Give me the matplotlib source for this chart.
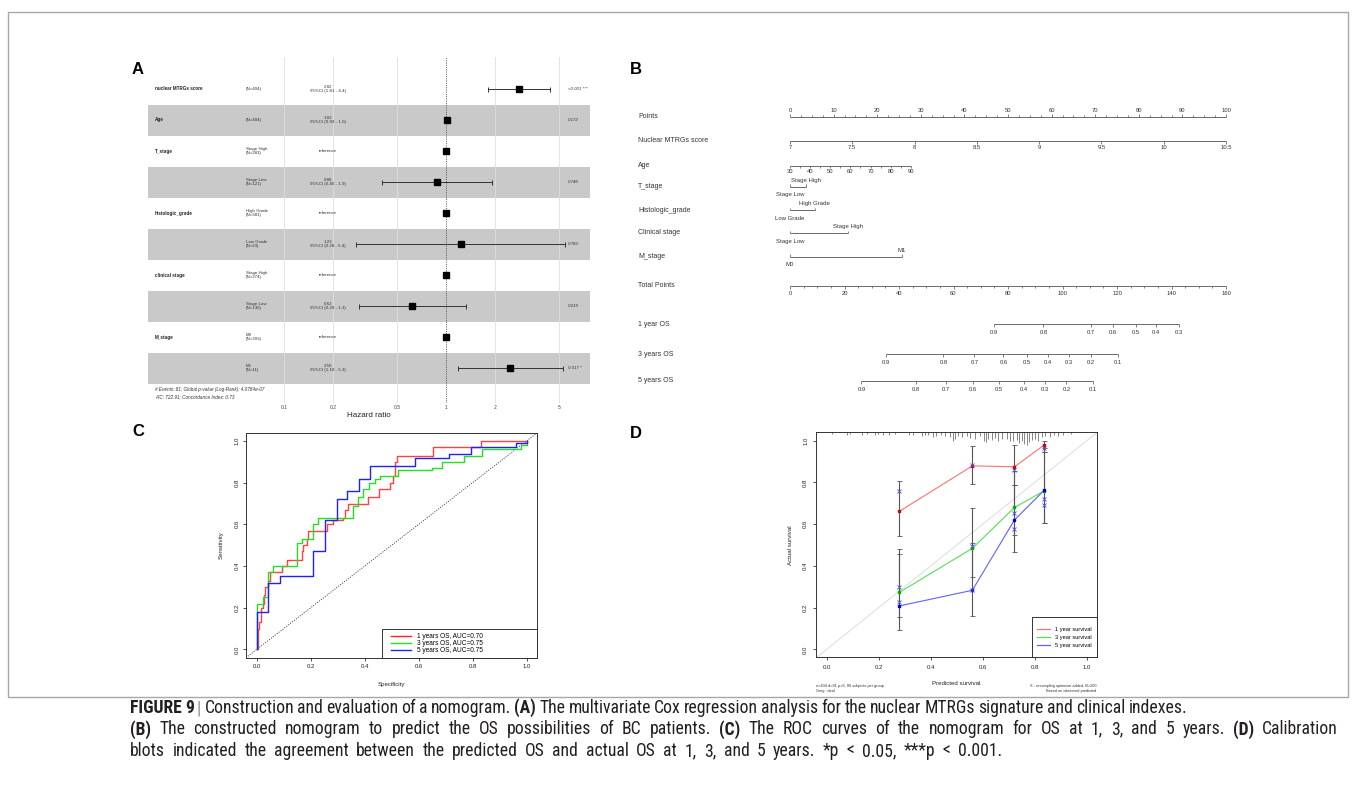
import numpy as np
import matplotlib
matplotlib.use("Agg")
import matplotlib.pyplot as plt
import matplotlib.transforms as mtransforms
from matplotlib import font_manager as fm
from matplotlib.patches import Rectangle, FancyBboxPatch
from matplotlib.lines import Line2D

W, H = 1356, 808
plt.rcParams['font.family'] = ['Liberation Sans', 'DejaVu Sans']

# ======================= DATA =======================
# Panel A: multivariate Cox forest plot
fp_vars = ["nuclear MTRGs score", "Age", "T_stage", "", "histologic_grade", "",
           "clinical stage", "", "M_stage", ""]
fp_levels = ["", "", "Stage High", "Stage Low", "High Grade", "Low Grade",
             "Stage High", "Stage Low", "M0", "M1"]
fp_n = [404, 404, 283, 121, 381, 23, 274, 130, 393, 11]
fp_hr = [2.82, 1.02, 1.0, 0.88, 1.0, 1.23, 1.0, 0.62, 1.0, 2.50]
fp_lo = [1.81, 0.99, np.nan, 0.40, np.nan, 0.28, np.nan, 0.29, np.nan, 1.18]
fp_hi = [4.40, 1.04, np.nan, 1.92, np.nan, 5.43, np.nan, 1.33, np.nan, 5.30]
fp_ci_text = ["(1.81 - 4.4)", "(0.99 - 1.0)", "", "(0.40 - 1.9)", "", "(0.28 - 5.4)",
              "", "(0.29 - 1.3)", "", "(1.18 - 5.3)"]
fp_p = ["<0.001 ***", "0.172", "", "0.746", "", "0.783", "", "0.219", "", "0.017 *"]
fp_ref = [False, False, True, False, True, False, True, False, True, False]
hr_ticks = [0.1, 0.2, 0.5, 1, 2, 5]
fp_footer = ["# Events: 81; Global p-value (Log-Rank): 4.0784e-07",
             "AIC: 722.91; Concordance Index: 0.73"]

# Panel B: nomogram
nomo_labels = ["Points", "Nuclear MTRGs score", "Age", "T_stage", "Histologic_grade",
               "Clinical stage", "M_stage", "Total Points", "1 year OS", "3 years OS", "5 years OS"]
points_major = list(range(0, 101, 10))
points_minor = list(np.arange(0, 100.1, 2.5))
score_ticks = [7, 7.5, 8, 8.5, 9, 9.5, 10, 10.5]
score_min, score_max = 7.0, 10.5          # maps onto 0..100 points
age_ticks = list(range(30, 91, 5))
age_labels = list(range(30, 91, 10))
age_min, age_max, age_max_points = 30, 90, 27.7
t_stage_levels, t_stage_points = ["Stage Low", "Stage High"], [0, 3.7]
hist_levels, hist_points = ["Low Grade", "High Grade"], [0, 5.7]
clin_levels, clin_points = ["Stage Low", "Stage High"], [0, 13.3]
m_levels, m_points = ["M0", "M1"], [0, 25.6]
total_major = list(range(0, 161, 20))
total_minor = list(range(0, 161, 5))
total_max = 160
os1_probs = [0.9, 0.8, 0.7, 0.6, 0.5, 0.4, 0.3]
os1_total = [74.8, 93.0, 110.3, 118.6, 126.9, 134.3, 142.6]
os3_probs = [0.9, 0.8, 0.7, 0.6, 0.5, 0.4, 0.3, 0.2, 0.1]
os3_total = [35.2, 56.3, 67.7, 78.3, 86.9, 94.6, 102.3, 110.3, 120.5]
os5_probs = [0.9, 0.8, 0.7, 0.6, 0.5, 0.4, 0.3, 0.2, 0.1]
os5_total = [26.2, 46.1, 57.3, 67.2, 76.7, 85.7, 93.4, 101.4, 111.2]

# Panel C: ROC curves (x = 1 - specificity at each step, y = sensitivity after step)
roc1_x = [0, 0.004, 0.01, 0.015, 0.022, 0.025, 0.031, 0.04, 0.05, 0.093, 0.111, 0.167, 0.173,
          0.185, 0.191, 0.259, 0.284, 0.32, 0.327, 0.34, 0.414, 0.454, 0.494, 0.506, 0.512,
          0.519, 0.654, 0.83, 1.0]
roc1_y = [0, 0.10, 0.13, 0.20, 0.22, 0.26, 0.30, 0.33, 0.37, 0.40, 0.43, 0.47, 0.50,
          0.53, 0.57, 0.60, 0.62, 0.63, 0.67, 0.70, 0.73, 0.77, 0.80, 0.83, 0.90,
          0.93, 0.97, 1.0, 1.0]
roc3_x = [0, 0.0, 0.022, 0.043, 0.059, 0.148, 0.167, 0.21, 0.228, 0.356, 0.377, 0.395, 0.417,
          0.438, 0.457, 0.522, 0.648, 0.685, 0.768, 0.836, 0.978, 1.0]
roc3_y = [0, 0.22, 0.25, 0.37, 0.40, 0.51, 0.53, 0.60, 0.63, 0.69, 0.73, 0.77, 0.80,
          0.82, 0.83, 0.86, 0.87, 0.90, 0.93, 0.96, 0.98, 1.0]
roc5_x = [0, 0.0, 0.043, 0.086, 0.207, 0.253, 0.296, 0.336, 0.379, 0.42, 0.586, 0.714, 0.793,
          0.96, 1.0]
roc5_y = [0, 0.18, 0.32, 0.35, 0.47, 0.62, 0.72, 0.76, 0.82, 0.88, 0.92, 0.94, 0.97,
          0.99, 1.0]
roc_labels = ["1 years OS, AUC=0.70", "3 years OS, AUC=0.75", "5 years OS, AUC=0.75"]

# Panel D: calibration
cal_pred = [0.279, 0.560, 0.722, 0.836]
cal1_obs = [0.661, 0.879, 0.875, 0.979]
cal3_obs = [0.273, 0.484, 0.680, 0.759]
cal5_obs = [0.208, 0.283, 0.620, 0.762]
cal1_lo, cal1_hi = [0.542, 0.792, 0.788, 0.944], [0.807, 0.976, 0.978, 1.0]
cal3_lo, cal3_hi = [0.093, 0.345, 0.548, 0.604], [0.481, 0.679, 0.853, 0.964]
cal5_lo, cal5_hi = [0.157, 0.158, 0.465, 0.604], [0.455, 0.510, 0.788, 0.944]
cal1_corr = [0.757, 0.884, 0.861, 0.965]
cal3_corr = [0.297, 0.495, 0.652, 0.720]
cal5_corr = [0.227, 0.283, 0.575, 0.692]
cal_labels = ["1 year survival", "3 year survival", "5 year survival"]
rug_pred = [0.02, 0.077, 0.09, 0.135, 0.154, 0.186, 0.199, 0.218, 0.241, 0.263, 0.318, 0.333,
            0.365, 0.378, 0.391, 0.41, 0.42, 0.438, 0.455, 0.474, 0.485, 0.494, 0.506, 0.519,
            0.538, 0.551, 0.571, 0.59, 0.603, 0.613, 0.622, 0.635, 0.647, 0.66, 0.673, 0.692,
            0.705, 0.718, 0.731, 0.741, 0.75, 0.759, 0.769, 0.779, 0.788, 0.801, 0.814, 0.827,
            0.84, 0.859, 0.872, 0.891, 0.91, 0.938]
rug_len = [0.010, 0.012, 0.010, 0.012, 0.010, 0.014, 0.010, 0.012, 0.014, 0.010, 0.012, 0.014,
           0.016, 0.012, 0.014, 0.022, 0.018, 0.014, 0.020, 0.024, 0.040, 0.030, 0.020, 0.024,
           0.018, 0.026, 0.030, 0.020, 0.040, 0.046, 0.030, 0.036, 0.028, 0.040, 0.030, 0.034,
           0.044, 0.040, 0.036, 0.050, 0.044, 0.056, 0.060, 0.048, 0.036, 0.030, 0.040, 0.024,
           0.020, 0.024, 0.014, 0.016, 0.012, 0.010]

caption_lines = [
    [("FIGURE 9", True, "#231f20"), ("|", False, "#888888"),
     ("Construction and evaluation of a nomogram.", False, "#231f20"), ("(A)", True, "#231f20"),
     ("The multivariate Cox regression analysis for the nuclear MTRGs signature and clinical indexes.",
      False, "#231f20")],
    [("(B)", True, "#231f20"),
     ("The constructed nomogram to predict the OS possibilities of BC patients.", False, "#231f20"),
     ("(C)", True, "#231f20"),
     ("The ROC curves of the nomogram for OS at 1, 3, and 5 years.", False, "#231f20"),
     ("(D)", True, "#231f20"), ("Calibration", False, "#231f20")],
    [("blots indicated the agreement between the predicted OS and actual OS at 1, 3, and 5 years. *p < 0.05, ***p < 0.001.",
      False, "#231f20")],
]

# ======================= FIGURE =======================
fig = plt.figure(figsize=(W / 100, H / 100), dpi=100)
fig.patch.set_facecolor("white")


def ax_px(x0, y0, x1, y1):
    return fig.add_axes([x0 / W, 1 - y1 / H, (x1 - x0) / W, (y1 - y0) / H])


def ftext(x, y, s, **kw):
    return fig.text(x / W, 1 - y / H, s, **kw)


# outer frame
fig.patches.append(FancyBboxPatch((8 / W, 1 - 697 / H), 1340 / W, 685 / H,
                                  boxstyle="square,pad=0", transform=fig.transFigure,
                                  fill=False, ec="#a8a8a8", lw=1.0))

# panel letters
for lab, x, y in [("A", 132, 70), ("B", 630, 69), ("C", 132, 432), ("D", 630, 433)]:
    ftext(x, y, lab, fontsize=12, fontweight="bold", va="center", ha="left", color="black")

# ---------------- Panel A ----------------
axA = ax_px(148, 57, 590, 403)
axA.set_xscale("log")
axA.set_xlim(10 ** ((148 - 446) / 162), 10 ** ((590 - 446) / 162))
nrows = len(fp_vars)
rows = np.arange(nrows)
axA.set_ylim((403 - 89) / 31, (57 - 89) / 31)
for i in rows:
    if i % 2 == 1:
        axA.axhspan(i - 0.5, i + 0.5, color="#c9c9c9", lw=0, zorder=0)
for t in hr_ticks:
    if t != 1:
        axA.axvline(t, color="#dedede", lw=0.6, zorder=1)
axA.axvline(1, color="#555555", lw=0.7, ls=(0, (1, 1.3)), zorder=2)
hr = np.array(fp_hr)
lo = np.array(fp_lo)
hi = np.array(fp_hi)
m = ~np.isnan(lo)
axA.errorbar(hr[m], rows[m], xerr=[hr[m] - lo[m], hi[m] - hr[m]], fmt="none",
             ecolor="#333333", elinewidth=0.7, capsize=1.8, capthick=0.7, zorder=3)
axA.plot(hr, rows, "s", color="black", ms=4.2, zorder=4)
for s in axA.spines.values():
    s.set_visible(False)
axA.set_yticks([])
axA.set_xticks(hr_ticks)
axA.set_xticklabels([str(t) for t in hr_ticks])
axA.xaxis.set_minor_locator(matplotlib.ticker.NullLocator())
axA.tick_params(axis="x", length=0, pad=1.2, labelsize=3.6, labelcolor="#444444")
axA.set_xlabel("Hazard ratio", fontsize=5.8, labelpad=1.5, color="#222222")
trA = mtransforms.blended_transform_factory(axA.transAxes, axA.transData)
for i in rows:
    if fp_vars[i]:
        axA.text(0.016, i, fp_vars[i], transform=trA, fontsize=3.3, fontweight="bold",
                 va="center", ha="left", color="#222222")
    ntxt = f"(N={fp_n[i]})"
    if fp_levels[i]:
        ntxt = fp_levels[i] + "\n" + ntxt
    axA.text(0.222, i, ntxt, transform=trA, fontsize=3.2, va="center", ha="left",
             color="#333333", linespacing=0.9)
    if fp_ref[i]:
        etxt = "reference"
    else:
        etxt = f"{fp_hr[i]:.2f}\n95%CI {fp_ci_text[i]}"
    axA.text(0.407, i, etxt, transform=trA, fontsize=3.2, va="center", ha="center",
             color="#333333", linespacing=1.0)
    if fp_p[i]:
        axA.text(0.950, i, fp_p[i], transform=trA, fontsize=3.2, va="center", ha="left",
                 color="#333333", style="italic")
axA.text(0.016, (389 - 89) / 31, fp_footer[0], transform=trA, fontsize=3.3, style="italic",
         va="center", ha="left", color="#333333")
axA.text(0.016, (397 - 89) / 31, fp_footer[1], transform=trA, fontsize=3.3, style="italic",
         va="center", ha="left", color="#333333")

# ---------------- Panel B ----------------
axB = ax_px(620, 60, 1250, 400)
ppx = 4.36  # pixels per point in this layout
axB.set_xlim((620 - 790) / ppx, (1250 - 790) / ppx)
axB.set_ylim(400, 60)
axB.axis("off")
LC = "#6a6a6a"
TC = "#333333"
row_y = [117, 140.7, 165.7, 186.7, 210, 233, 256.5, 285.7, 324, 354, 381]
for lab, y in zip(nomo_labels, row_y):
    axB.text((638 - 790) / ppx, y, lab, fontsize=5.0, va="center", ha="left", color=TC)


def nline(xs, y):
    axB.plot([min(xs), max(xs)], [y, y], color=LC, lw=0.7, solid_capstyle="butt")


def nticks(xs, y, length, up):
    d = -length if up else length
    axB.vlines(xs, y, y + d, color=LC, lw=0.6)


def nlabels(xs, labels, y, dy, size=4.2):
    for x, l in zip(xs, labels):
        axB.text(x, y + dy, l, fontsize=size, ha="center", va="center", color=TC)


# Points
y = row_y[0]
nline(points_major, y)
nticks(points_major, y, 3, True)
nticks([p for p in points_minor if p % 10 != 0], y, 1.8, True)
nlabels(points_major, [str(p) for p in points_major], y, -7)
# Nuclear score
y = row_y[1]
sx = [(s - score_min) * 100 / (score_max - score_min) for s in score_ticks]
nline(sx, y)
nticks(sx, y, 3, False)
nlabels(sx, [("%g" % s) for s in score_ticks], y, 7)
# Age
y = row_y[2]
ax_ = [(a - age_min) / (age_max - age_min) * age_max_points for a in age_ticks]
nline(ax_, y)
nticks(ax_, y, 2.5, False)
nlabels([(a - age_min) / (age_max - age_min) * age_max_points for a in age_labels],
        [str(a) for a in age_labels], y, 6)
# categorical rows
for (levels, pts), y in zip([(t_stage_levels, t_stage_points), (hist_levels, hist_points),
                             (clin_levels, clin_points), (m_levels, m_points)], row_y[3:7]):
    nline(pts, y)
    nticks(pts, y, 2.5, True)
    axB.text(pts[0], y + 8, levels[0], fontsize=4.3, ha="center", va="center", color=TC)
    axB.text(pts[1], y - 6.5, levels[1], fontsize=4.3, ha="center", va="center", color=TC)
# Total points
y = row_y[7]
tmaj = [t * 100 / total_max for t in total_major]
tmin = [t * 100 / total_max for t in total_minor if t % 20 != 0]
nline(tmaj, y)
nticks(tmaj, y, 3, False)
nticks(tmin, y, 1.8, False)
nlabels(tmaj, [str(t) for t in total_major], y, 8)
# OS scales
for probs, tot, y in [(os1_probs, os1_total, row_y[8]), (os3_probs, os3_total, row_y[9]),
                      (os5_probs, os5_total, row_y[10])]:
    xs = [t * 100 / total_max for t in tot]
    nline(xs, y)
    nticks(xs, y, 2.5, False)
    nlabels(xs, [("%g" % p) for p in probs], y, 8.5)

# ---------------- Panel C ----------------
axC = ax_px(246, 432.7, 537.3, 657.7)
axC.set_xlim(-0.04, 1.04)
axC.set_ylim(-0.04, 1.04)
axC.axline((0, 0), (1, 1), color="#333333", lw=0.7, ls=(0, (1, 1.5)))
c1, c3, c5 = "#ff2020", "#22e022", "#2020ff"
axC.plot(roc1_x, roc1_y, drawstyle="steps-post", color=c1, lw=1.0, alpha=0.85)
axC.plot(roc3_x, roc3_y, drawstyle="steps-post", color=c3, lw=1.0)
axC.plot(roc5_x, roc5_y, drawstyle="steps-post", color=c5, lw=1.0)
ticks = [0, 0.2, 0.4, 0.6, 0.8, 1.0]


def r_axes(ax):
    for s in ax.spines.values():
        s.set_color("#333333")
        s.set_linewidth(0.7)
    ax.set_xticks(ticks)
    ax.set_yticks(ticks)
    ax.set_xticklabels(["%.1f" % t for t in ticks])
    ax.set_yticklabels(["%.1f" % t for t in ticks], rotation=90, va="center")
    ax.tick_params(length=2.2, width=0.6, pad=2.5, labelsize=4.3, color="#333333",
                   labelcolor="#222222")


r_axes(axC)
axC.set_xlabel("Specificity", fontsize=4.4, labelpad=9, color="#222222")
axC.set_ylabel("Sensitivity", fontsize=4.4, labelpad=8, color="#222222")
axC.add_patch(Rectangle((0.466, 0), 0.534, 0.126, transform=axC.transAxes, fill=False,
                        ec="#333333", lw=0.7, clip_on=False, zorder=5))
hC = [Line2D([], [], color=c, lw=1.0) for c in (c1, c3, c5)]
axC.legend(hC, roc_labels, loc="center left", bbox_to_anchor=(0.498, 0.063), frameon=False,
           fontsize=4.7, handlelength=3.0, handletextpad=1.0, labelspacing=0.0,
           borderpad=0, borderaxespad=0)

# ---------------- Panel D ----------------
axD = ax_px(816, 432.3, 1096.7, 657.3)
axD.set_xlim(-0.041, 1.038)
axD.set_ylim(-0.038, 1.04)
axD.axline((0, 0), (1, 1), color="#e0e0e0", lw=0.8, zorder=1)
axD.vlines(rug_pred, 1.04 - np.array(rug_len), 1.04, color="#555555", lw=0.5, zorder=2)
lcol = ["#ff7070", "#50e050", "#6060ff"]
pcol = ["#dd0000", "#00b000", "#0000cc"]
pred = np.array(cal_pred)
for obs, lo_, hi_, corr, lc, pc in [
        (cal1_obs, cal1_lo, cal1_hi, cal1_corr, lcol[0], pcol[0]),
        (cal3_obs, cal3_lo, cal3_hi, cal3_corr, lcol[1], pcol[1]),
        (cal5_obs, cal5_lo, cal5_hi, cal5_corr, lcol[2], pcol[2])]:
    lo_ = np.array(lo_)
    hi_ = np.array(hi_)
    axD.errorbar(pred, (lo_ + hi_) / 2, yerr=(hi_ - lo_) / 2, fmt="none", ecolor="#555555",
                 elinewidth=0.8, capsize=1.8, capthick=0.6, zorder=3)
    axD.plot(pred, obs, color=lc, lw=0.8, zorder=4)
    axD.plot(pred, obs, "s", color=pc, ms=1.6, zorder=5)
    axD.plot(pred, corr, "x", color="#4a4aff", ms=2.2, mew=0.6, zorder=5)
r_axes(axD)
axD.tick_params(pad=3.5)
axD.set_xlabel("Predicted survival", fontsize=4.4, labelpad=8, color="#222222")
axD.set_ylabel("Actual survival", fontsize=4.4, labelpad=7, color="#222222")
axD.text(0.0, -0.12, "n=404 d=81 p=6, 80 subjects per group\nGray: ideal",
         transform=axD.transAxes, fontsize=2.8, ha="left", va="top", color="#333333",
         linespacing=1.1)
axD.text(1.0, -0.12, "X - resampling optimism added, B=200\nBased on observed-predicted",
         transform=axD.transAxes, fontsize=2.8, ha="right", va="top", color="#333333",
         linespacing=1.1, multialignment="right")
axD.add_patch(Rectangle((0.768, 0), 0.232, 0.178, transform=axD.transAxes, fill=False,
                        ec="#333333", lw=0.7, clip_on=False, zorder=6))
hD = [Line2D([], [], color=c, lw=0.9) for c in lcol]
axD.legend(hD, cal_labels, loc="center left", bbox_to_anchor=(0.787, 0.087), frameon=False,
           fontsize=4.1, handlelength=2.3, handletextpad=0.9, labelspacing=0.55,
           borderpad=0, borderaxespad=0)

# ---------------- Caption ----------------
# prefer a condensed face when one is installed
cap_family, cap_kw, cap_size = ["Liberation Sans", "DejaVu Sans"], {}, 11.2
for fam, kw, size in [("Liberation Sans Narrow", {}, 13.3), ("Roboto Condensed", {}, 12.7),
                      ("Open Sans Condensed", {}, 12.7),
                      ("DejaVu Sans", {"fontstretch": "condensed"}, 12.3)]:
    try:
        props = fm.FontProperties(family=fam, stretch=kw.get("fontstretch", "normal"))
        path = fm.findfont(props, fallback_to_default=False)
        if fam == "DejaVu Sans" and "Condensed" not in path:
            continue
        cap_family, cap_kw, cap_size = [fam, "DejaVu Sans"], kw, size
        break
    except Exception:
        continue

renderer = fig.canvas.get_renderer()
t1 = ftext(0, 0, "a a", fontsize=cap_size, family=cap_family, **cap_kw)
t2 = ftext(0, 0, "aa", fontsize=cap_size, family=cap_family, **cap_kw)
space_w = t1.get_window_extent(renderer).width - t2.get_window_extent(renderer).width
t1.remove()
t2.remove()
cap_x0 = 130
line_ends = [1187, 1338, 1002]
for pieces, yb, xend in zip(caption_lines, [713, 734.5, 756], line_ends):
    words = [(w, bold, col) for txt, bold, col in pieces for w in txt.split(" ")]
    objs, widths = [], []
    for w, bold, col in words:
        t = ftext(0, yb, w, fontsize=cap_size, family=cap_family,
                  fontweight="bold" if bold else "normal", color=col, va="baseline",
                  ha="left", **cap_kw)
        objs.append(t)
        widths.append(t.get_window_extent(renderer).width)
    gaps = len(words) - 1
    natural = sum(widths) + space_w * gaps
    extra = (xend - cap_x0 - natural) / gaps
    extra = min(max(extra, -0.5 * space_w), 1.2 * space_w)
    gap = space_w + extra
    x = cap_x0
    for t, w in zip(objs, widths):
        t.set_x(x / W)
        x += w + gap

fig.savefig("out.png", dpi=100, facecolor="white")
